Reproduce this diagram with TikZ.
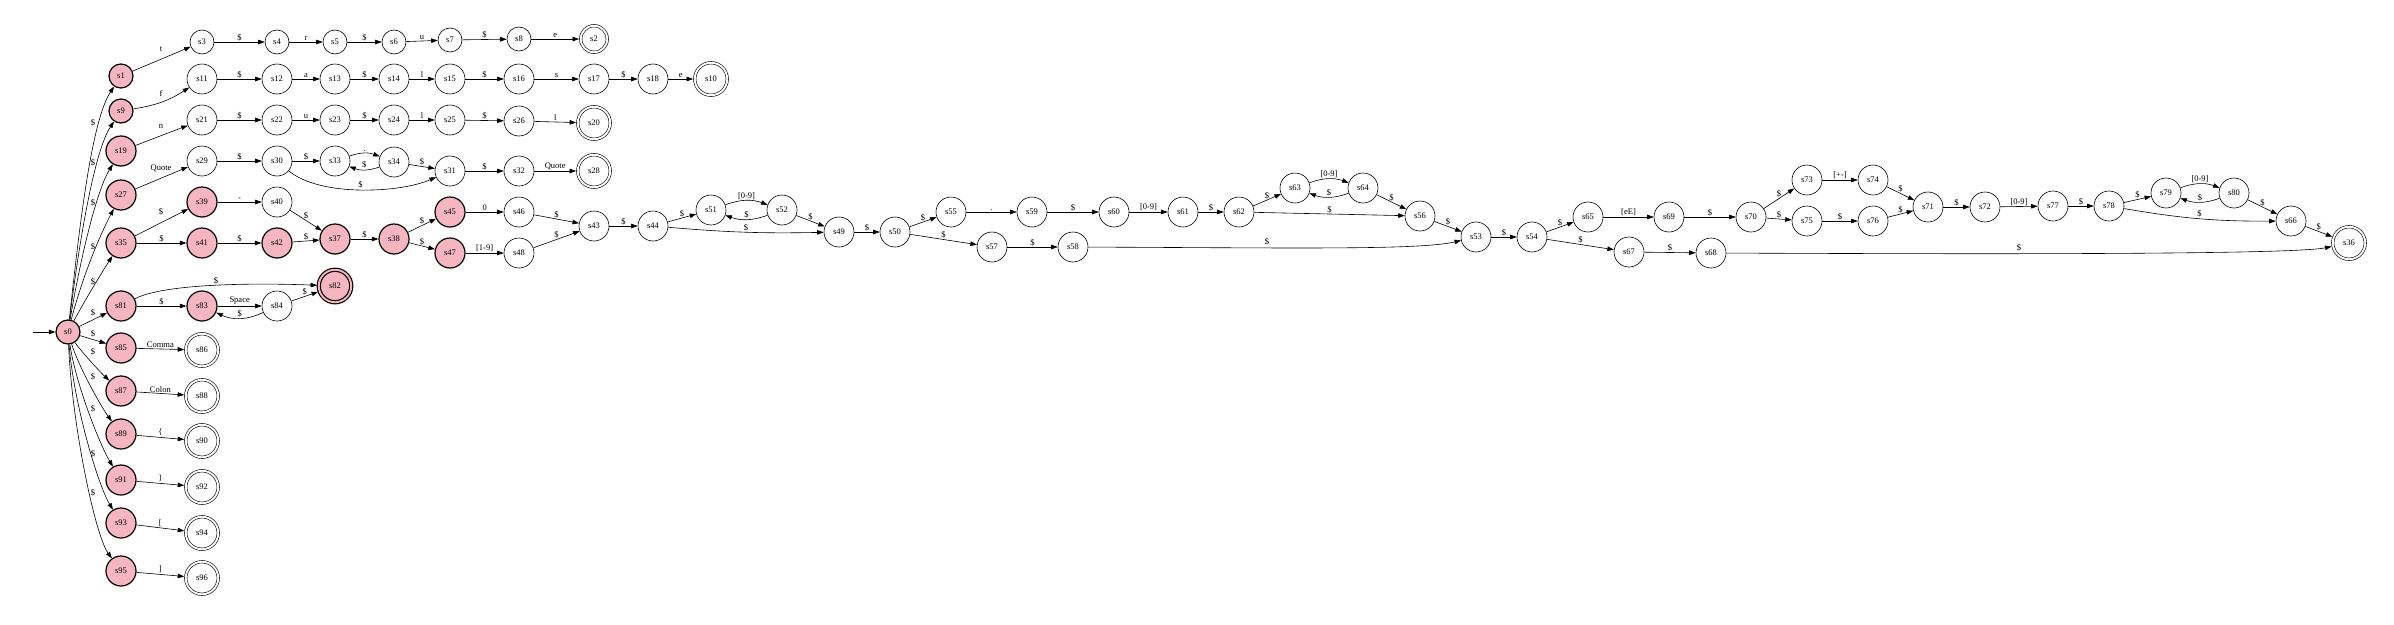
\documentclass[tikz,border=0pt]{standalone}
\usepackage{fontspec}
\setmainfont{Liberation Serif}
\usetikzlibrary{arrows.meta}
\definecolor{pinkc}{RGB}{245,182,193}
\begin{document}
\begin{tikzpicture}[x=1pt,y=-1pt,
  st/.style={circle,draw,line width=0.6pt,minimum size=24pt,inner sep=0pt,font=\fontsize{8.5}{10}\selectfont},
  bg/.style={st,minimum size=30pt},
  pk/.style={fill=pinkc,line width=1.2pt},
  acc/.style={double,double distance=1.9pt,outer sep=1.6pt,minimum size=32.5pt},
  accs/.style={double,double distance=1.9pt,outer sep=1.6pt,minimum size=26.5pt},
  e/.style={-{Triangle[length=6.5pt,width=4.5pt]},line width=0.6pt},
  lab/.style={font=\fontsize{8.5}{10}\selectfont,inner sep=1pt},
  ab/.style={lab,above}]
\useasboundingbox (0,0) rectangle (2394,624);
% column 1
\node[st,pk] (s0) at (68,332) {s0};
\node[st,pk] (s1) at (121,76) {s1};
\node[st,pk] (s9) at (121,111) {s9};
\node[bg,pk] (s19) at (121,151) {s19};
\node[bg,pk] (s27) at (121,195) {s27};
\node[bg,pk] (s35) at (121,243) {s35};
\node[bg,pk] (s81) at (121,306) {s81};
\node[bg,pk] (s85) at (121,348) {s85};
\node[bg,pk] (s87) at (121,391) {s87};
\node[bg,pk] (s89) at (121,434) {s89};
\node[bg,pk] (s91) at (121,480) {s91};
\node[bg,pk] (s93) at (121,523) {s93};
\node[bg,pk] (s95) at (121,571) {s95};
% column 2
\node[st] (s3) at (202,42) {s3};
\node[bg] (s11) at (202,79) {s11};
\node[bg] (s21) at (202,120) {s21};
\node[bg] (s29) at (202,161) {s29};
\node[bg,pk] (s39) at (202,202) {s39};
\node[bg,pk] (s41) at (202,243) {s41};
\node[bg,pk] (s83) at (202,306) {s83};
\node[bg,acc] (s86) at (202,350) {s86};
\node[bg,acc] (s88) at (202,396) {s88};
\node[bg,acc] (s90) at (202,441) {s90};
\node[bg,acc] (s92) at (202,487) {s92};
\node[bg,acc] (s94) at (202,533) {s94};
\node[bg,acc] (s96) at (202,578) {s96};
% column 3
\node[st] (s4) at (277,42) {s4};
\node[bg] (s12) at (277,79) {s12};
\node[bg] (s22) at (277,120) {s22};
\node[bg] (s30) at (277,161) {s30};
\node[bg] (s40) at (277,202) {s40};
\node[bg,pk] (s42) at (277,243) {s42};
\node[bg] (s84) at (277,306) {s84};
% column 4
\node[st] (s5) at (335,42) {s5};
\node[bg] (s13) at (335,79) {s13};
\node[bg] (s23) at (335,120) {s23};
\node[bg] (s33) at (335,161) {s33};
\node[bg,pk] (s37) at (335,239) {s37};
\node[bg,pk,acc,double=pinkc] (s82) at (335,286) {s82};
% column 5
\node[st] (s6) at (394,42) {s6};
\node[bg] (s14) at (394,79) {s14};
\node[bg] (s24) at (394,120) {s24};
\node[bg] (s34) at (394,162) {s34};
\node[bg,pk] (s38) at (394,239) {s38};
% column 6
\node[st] (s7) at (450,40) {s7};
\node[bg] (s15) at (450,79) {s15};
\node[bg] (s25) at (450,120) {s25};
\node[bg] (s31) at (450,171) {s31};
\node[bg,pk] (s45) at (450,212) {s45};
\node[bg,pk] (s47) at (450,253) {s47};
% column 7
\node[st] (s8) at (519,39) {s8};
\node[bg] (s16) at (519,79) {s16};
\node[bg] (s26) at (519,121) {s26};
\node[bg] (s32) at (519,171) {s32};
\node[bg] (s46) at (519,212) {s46};
\node[bg] (s48) at (519,253) {s48};
% column 8
\node[st,accs] (s2) at (594,39) {s2};
\node[bg] (s17) at (594,79) {s17};
\node[bg,acc] (s20) at (594,123) {s20};
\node[bg,acc] (s28) at (594,171) {s28};
\node[bg] (s43) at (594,226) {s43};
% further
\node[bg] (s18) at (653,79) {s18};
\node[bg] (s44) at (653,226) {s44};
\node[bg,acc] (s10) at (711,79) {s10};
\node[bg] (s51) at (711,210) {s51};
\node[bg] (s52) at (782,210) {s52};
\node[bg] (s49) at (839,232) {s49};
\node[bg] (s50) at (895,232) {s50};
\node[bg] (s55) at (951,212) {s55};
\node[bg] (s57) at (992,247) {s57};
\node[bg] (s59) at (1032,212) {s59};
\node[bg] (s58) at (1073,247) {s58};
\node[bg] (s60) at (1114,212) {s60};
\node[bg] (s61) at (1183,212) {s61};
\node[bg] (s62) at (1239,212) {s62};
\node[bg] (s63) at (1295,188) {s63};
\node[bg] (s64) at (1363,188) {s64};
\node[bg] (s56) at (1420,216) {s56};
\node[bg] (s53) at (1476,237) {s53};
\node[bg] (s54) at (1532,237) {s54};
\node[bg] (s65) at (1588,217) {s65};
\node[bg] (s67) at (1629,252) {s67};
\node[bg] (s69) at (1669,217) {s69};
\node[bg] (s68) at (1711,253) {s68};
\node[bg] (s70) at (1751,217) {s70};
\node[bg] (s73) at (1807,180) {s73};
\node[bg] (s75) at (1807,221) {s75};
\node[bg] (s74) at (1873,180) {s74};
\node[bg] (s76) at (1873,221) {s76};
\node[bg] (s71) at (1928,207) {s71};
\node[bg] (s72) at (1985,207) {s72};
\node[bg] (s77) at (2053,206) {s77};
\node[bg] (s78) at (2109,206) {s78};
\node[bg] (s79) at (2166,193) {s79};
\node[bg] (s80) at (2234,193) {s80};
\node[bg] (s66) at (2291,221) {s66};
\node[bg,acc] (s36) at (2349,243) {s36};
% start
\coordinate (start) at (33,332);
\draw[e,line width=1pt] (start) -- (s0);
% fan from s0
\draw[e] (s0) .. controls (80,220) and (92,120) .. (s1);
\draw[e] (s0) .. controls (80,235) and (95,150) .. (s9);
\draw[e] (s0) .. controls (81,255) and (97,190) .. (s19);
\draw[e] (s0) .. controls (83,275) and (100,235) .. (s27);
\draw[e] (s0) .. controls (85,300) and (102,272) .. (s35);
\draw[e] (s0) -- (s81);
\draw[e] (s0) -- (s85);
\draw[e] (s0) .. controls (80,350) and (100,372) .. (s87);
\draw[e] (s0) .. controls (78,365) and (100,405) .. (s89);
\draw[e] (s0) .. controls (76,385) and (100,445) .. (s91);
\draw[e] (s0) .. controls (74,405) and (98,485) .. (s93);
\draw[e] (s0) .. controls (72,425) and (95,535) .. (s95);
\node[lab] (l1) at (93,123) {\$};
\node[lab] (l9) at (93,163) {\$};
\node[lab] (l19) at (93,203) {\$};
\node[lab] (l27) at (93,247) {\$};
\node[lab] (l35) at (93,282) {\$};
\node[lab] (l81) at (93,313) {\$};
\node[lab] (l85) at (93,334) {\$};
\node[lab] (l87) at (93,352) {\$};
\node[lab] (l89) at (93,377) {\$};
\node[lab] (l91) at (93,409) {\$};
\node[lab] (l93) at (93,454) {\$};
\node[lab] (l95) at (93,493) {\$};
% row true
\draw[e] (s1) -- (s3);
\node[lab] (lt) at (161,49) {t};
\draw[e] (s3) -- node[ab]{\$} (s4);
\draw[e] (s4) -- node[ab]{r} (s5);
\draw[e] (s5) -- node[ab]{\$} (s6);
\draw[e] (s6) -- node[ab]{u} (s7);
\draw[e] (s7) -- node[ab]{\$} (s8);
\draw[e] (s8) -- node[ab]{e} (s2);
% row false
\draw[e] (s9) to[bend right=12] (s11);
\node[lab] (lf) at (161,94) {f};
\draw[e] (s11) -- node[ab]{\$} (s12);
\draw[e] (s12) -- node[ab]{a} (s13);
\draw[e] (s13) -- node[ab]{\$} (s14);
\draw[e] (s14) -- node[ab]{l} (s15);
\draw[e] (s15) -- node[ab]{\$} (s16);
\draw[e] (s16) -- node[ab]{s} (s17);
\draw[e] (s17) -- node[ab]{\$} (s18);
\draw[e] (s18) -- node[ab]{e} (s10);
% row null
\draw[e] (s19) -- (s21);
\node[lab] (ln) at (161,126) {n};
\draw[e] (s21) -- node[ab]{\$} (s22);
\draw[e] (s22) -- node[ab]{u} (s23);
\draw[e] (s23) -- node[ab]{\$} (s24);
\draw[e] (s24) -- node[ab]{l} (s25);
\draw[e] (s25) -- node[ab]{\$} (s26);
\draw[e] (s26) -- node[ab]{l} (s20);
% row string
\draw[e] (s27) -- (s29);
\node[lab] (lq) at (161,168) {Quote};
\draw[e] (s29) -- node[ab]{\$} (s30);
\draw[e] (s30) -- node[ab]{\$} (s33);
\draw[e] (s33) to[bend left=20] node[ab]{.} (s34);
\draw[e] (s34) to[bend left=20] node[ab]{\$} (s33);
\draw[e] (s34) -- node[ab]{\$} (s31);
\draw[e] (s30) .. controls (320,197) and (400,193) .. (s31) node[ab,pos=0.5]{\$};
\draw[e] (s31) -- node[ab]{\$} (s32);
\draw[e] (s32) -- node[ab]{Quote} (s28);
% number
\draw[e] (s35) -- (s39);
\node[lab] (l39) at (161,212) {\$};
\draw[e] (s35) -- node[ab]{\$} (s41);
\draw[e] (s39) -- node[ab]{-} (s40);
\draw[e] (s41) -- node[ab]{\$} (s42);
\draw[e] (s40) -- node[ab]{\$} (s37);
\draw[e] (s42) -- node[ab]{\$} (s37);
\draw[e] (s37) -- node[ab]{\$} (s38);
\draw[e] (s38) -- node[ab]{\$} (s45);
\draw[e] (s38) -- node[ab]{\$} (s47);
\draw[e] (s45) -- node[ab]{0} (s46);
\draw[e] (s47) -- node[ab]{[1-9]} (s48);
\draw[e] (s46) -- node[ab]{\$} (s43);
\draw[e] (s48) -- node[ab]{\$} (s43);
\draw[e] (s43) -- node[ab]{\$} (s44);
\draw[e] (s44) -- node[ab]{\$} (s51);
\draw[e] (s44) to[bend right=3] node[ab]{\$} (s49);
\draw[e] (s51) to[bend left=20] node[ab]{[0-9]} (s52);
\draw[e] (s52) to[bend left=20] node[ab]{\$} (s51);
\draw[e] (s52) -- node[ab]{\$} (s49);
\draw[e] (s49) -- node[ab]{\$} (s50);
\draw[e] (s50) -- node[ab]{\$} (s55);
\draw[e] (s50) -- node[ab]{\$} (s57);
\draw[e] (s55) -- node[ab]{.} (s59);
\draw[e] (s59) -- node[ab]{\$} (s60);
\draw[e] (s60) -- node[ab]{[0-9]} (s61);
\draw[e] (s61) -- node[ab]{\$} (s62);
\draw[e] (s62) -- node[ab]{\$} (s63);
\draw[e] (s63) to[bend left=20] node[ab]{[0-9]} (s64);
\draw[e] (s64) to[bend left=20] node[ab]{\$} (s63);
\draw[e] (s64) -- node[ab]{\$} (s56);
\draw[e] (s62) -- node[ab]{\$} (s56);
\draw[e] (s56) -- node[ab]{\$} (s53);
\draw[e] (s57) -- node[ab]{\$} (s58);
\draw[e] (s58) .. controls (1300,248) and (1420,250) .. (s53);
\node[lab] (l58) at (1267,242) {\$};
\draw[e] (s53) -- node[ab]{\$} (s54);
\draw[e] (s54) -- node[ab]{\$} (s65);
\draw[e] (s54) -- node[ab]{\$} (s67);
\draw[e] (s65) -- node[ab]{[eE]} (s69);
\draw[e] (s69) -- node[ab]{\$} (s70);
\draw[e] (s70) -- node[ab]{\$} (s73);
\draw[e] (s70) -- node[ab]{\$} (s75);
\draw[e] (s73) -- node[ab]{[+-]} (s74);
\draw[e] (s75) -- node[ab]{\$} (s76);
\draw[e] (s74) -- node[ab]{\$} (s71);
\draw[e] (s76) -- node[ab]{\$} (s71);
\draw[e] (s71) -- node[ab]{\$} (s72);
\draw[e] (s72) -- node[ab]{[0-9]} (s77);
\draw[e] (s77) -- node[ab]{\$} (s78);
\draw[e] (s78) -- node[ab]{\$} (s79);
\draw[e] (s79) to[bend left=20] node[ab]{[0-9]} (s80);
\draw[e] (s80) to[bend left=20] node[ab]{\$} (s79);
\draw[e] (s80) -- node[ab]{\$} (s66);
\draw[e] (s78) to[bend right=5] node[ab]{\$} (s66);
\draw[e] (s66) -- node[ab]{\$} (s36);
\draw[e] (s67) -- node[ab]{\$} (s68);
\draw[e] (s68) .. controls (1950,254) and (2290,255) .. (s36);
\node[lab] (l68) at (2019,248) {\$};
% s81 group
\draw[e] (s81) .. controls (165,283) and (260,283) .. (s82) node[ab,pos=0.5]{\$};
\draw[e] (s81) -- node[ab]{\$} (s83);
\draw[e] (s83) -- node[ab]{Space} (s84);
\draw[e] (s84) to[bend left=25] node[ab]{\$} (s83);
\draw[e] (s84) -- node[ab]{\$} (s82);
% punctuation
\draw[e] (s85) -- node[ab]{Comma} (s86);
\draw[e] (s87) -- node[ab]{Colon} (s88);
\draw[e] (s89) -- node[ab]{\{} (s90);
\draw[e] (s91) -- node[ab]{\}} (s92);
\draw[e] (s93) -- node[ab]{[} (s94);
\draw[e] (s95) -- node[ab]{]} (s96);
\end{tikzpicture}
\end{document}
